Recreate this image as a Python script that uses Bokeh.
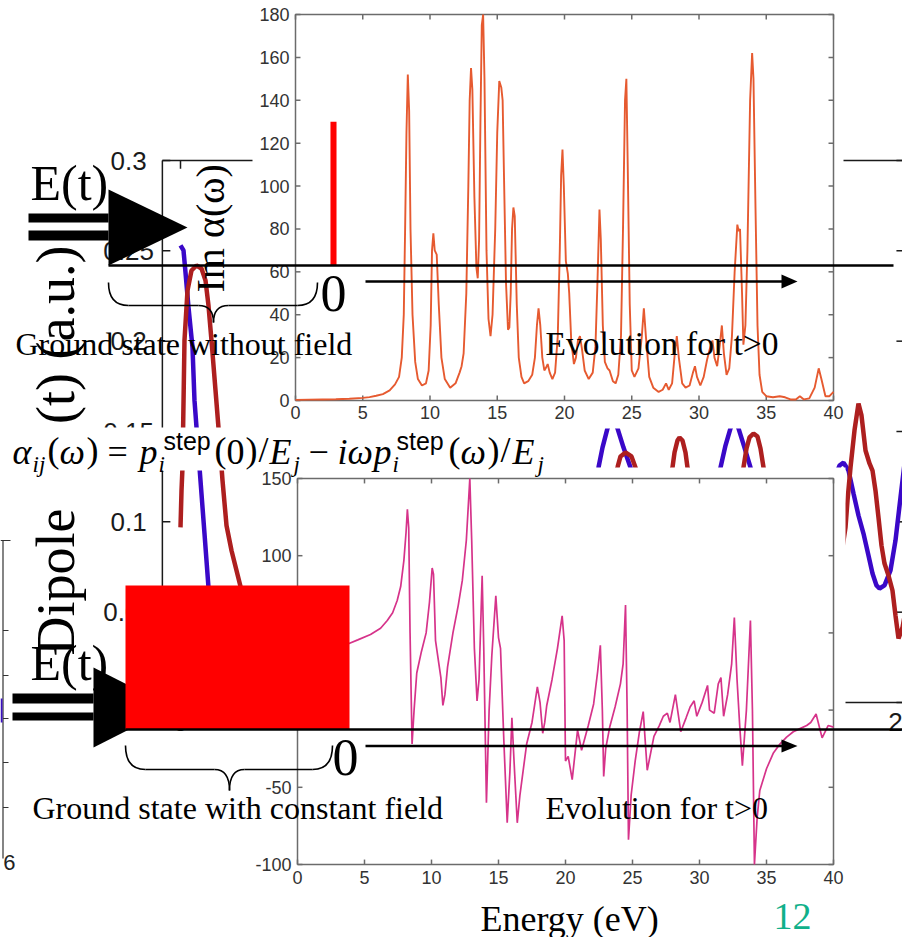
import math
from bokeh.plotting import figure
from bokeh.models import Range1d
from bokeh.core.properties import value
from bokeh.embed import file_html
from bokeh.resources import INLINE

SERIF = "Liberation Serif"
SANS = "Liberation Sans"

# ---- Im alpha(omega): ground state without field ----
im_energy = [0.0, 1.0, 2.0, 3.0, 4.0, 5.0, 5.5, 6.0, 6.5, 7.0, 7.4, 7.7, 7.9, 8.05, 8.15, 8.25, 8.35,
             8.45, 8.55, 8.7, 8.9, 9.1, 9.4, 9.7, 9.9, 10.05, 10.15, 10.25, 10.35, 10.5, 10.65, 10.85,
             11.1, 11.5, 11.9, 12.2, 12.35, 12.5, 12.7, 12.85, 12.95, 13.05, 13.15, 13.3, 13.45, 13.55,
             13.65, 13.75, 13.85, 13.95, 14.05, 14.2, 14.35, 14.5, 14.65, 14.85, 15.0, 15.15, 15.3,
             15.4, 15.5, 15.65, 15.8, 15.9, 16.0, 16.1, 16.2, 16.3, 16.45, 16.6, 16.8, 17.0, 17.3,
             17.6, 17.8, 17.95, 18.07, 18.2, 18.35, 18.5, 18.6, 18.75, 18.9, 19.1, 19.3, 19.5, 19.65,
             19.75, 19.85, 19.95, 20.1, 20.25, 20.35, 20.5, 20.7, 20.85, 21.0, 21.15, 21.3, 21.5, 21.8,
             22.1, 22.3, 22.45, 22.6, 22.7, 22.85, 23.0, 23.2, 23.35, 23.6, 23.8, 24.0, 24.2, 24.35,
             24.5, 24.6, 24.7, 24.85, 25.0, 25.2, 25.5, 25.75, 25.9, 26.05, 26.3, 26.6, 27.0, 27.3,
             27.55, 27.75, 28.0, 28.2, 28.35, 28.5, 28.75, 29.0, 29.3, 29.55, 29.7, 29.85, 30.1, 30.35,
             30.6, 30.8, 31.0, 31.15, 31.35, 31.55, 31.7, 31.85, 32.05, 32.25, 32.45, 32.65, 32.85,
             32.95, 33.05, 33.2, 33.3, 33.45, 33.6, 33.8, 33.95, 34.05, 34.2, 34.35, 34.5, 34.7, 35.0,
             35.5, 36.0, 36.4, 36.8, 37.2, 37.5, 37.8, 38.2, 38.6, 38.9, 39.1, 39.4, 39.7, 40.0]
im_alpha = [0.3, 0.4, 0.5, 0.6, 0.8, 1.2, 1.6, 2.2, 3.0, 4.7, 7.5, 11, 20, 40, 80, 125, 152,
            135, 80, 40, 18, 10, 7, 8, 14, 35, 70, 78, 70, 68, 45, 20,
            10, 6, 8, 13, 16, 22, 50, 100, 140, 155, 145, 95, 62, 57,
            75, 130, 175, 180, 150, 70, 38, 30, 40, 80, 125, 149, 146,
            140, 105, 55, 33, 34, 50, 80, 90, 86, 45, 20, 11, 8, 9,
            12, 20, 35, 43, 35, 20, 14, 15, 17, 13, 10, 13, 30, 70,
            105, 117, 100, 65, 59, 50, 28, 17, 20, 28, 30, 24, 14, 10,
            13, 25, 55, 89, 75, 35, 18, 15, 14, 9, 8, 12, 30, 80,
            140, 150, 110, 45, 14, 11, 15, 30, 43, 30, 11, 6, 4, 5,
            8, 5, 8, 22, 30, 20, 8, 6, 7, 13, 16, 11, 7, 11,
            19, 24, 28, 20, 16, 26, 35, 22, 12, 15, 30, 60, 82,
            79, 80, 50, 26, 35, 70, 140, 162, 150, 90, 35, 12, 4, 2,
            1.5, 2, 1.5, 0.5, 0.5, 2, 0.5, 1, 6, 15, 10, 2, 2, 4]

# ---- alpha(omega): ground state with constant field ----
cf_energy = [0.0, 1.0, 2.0, 3.0, 3.8, 4.5, 5.45, 6.2, 6.7, 7.1, 7.44, 7.7, 7.94, 8.1, 8.2, 8.3, 8.4,
             8.55, 8.7, 8.9, 9.25, 9.6, 9.85, 10.05, 10.15, 10.3, 10.55, 10.7, 10.85, 11.0, 11.2,
             11.6, 12.0, 12.3, 12.6, 12.86, 13.0, 13.2, 13.4, 13.55, 13.78, 13.9, 14.1, 14.3, 14.5,
             14.8, 15.0, 15.15, 15.4, 15.65, 15.85, 16.0, 16.2, 16.4, 16.6, 17.1, 17.5, 17.9, 18.1,
             18.3, 18.45, 18.6, 19.0, 19.4, 19.75, 19.9, 20.0, 20.2, 20.5, 20.9, 21.2, 21.7, 22.1,
             22.4, 22.6, 22.75, 22.85, 23.0, 23.3, 23.7, 24.1, 24.3, 24.48, 24.6, 24.7, 24.9, 25.2,
             25.5, 25.8, 26.1, 26.6, 27.0, 27.3, 27.6, 27.8, 28.2, 28.6, 29.0, 29.3, 29.6, 29.8,
             30.2, 30.6, 30.75, 31.1, 31.4, 31.6, 31.8, 32.1, 32.4, 32.6, 32.8, 33.0, 33.2, 33.5,
             33.8, 33.95, 34.1, 34.3, 34.5, 35.0, 35.5, 36.0, 36.5, 37.0, 37.5, 38.0, 38.3, 38.7,
             39.15, 39.6, 40.0]
cf_alpha = [38, 39, 40, 41.5, 43, 45.5, 49, 53, 58, 63, 71, 80, 97, 115, 130, 118, 50,
            -22, 0, 24, 38, 50, 70, 92, 88, 45, 30, 21, 3, 10, 28,
            50, 68, 84, 110, 150, 110, 40, 6, 20, 87, 40, -60, 0, 35,
            74, 47, 40, -20, -73, -40, -5, -40, -73, -55, -22, -8, 15, 5,
            -15, -8, 3, 20, 40, 61, 45, -33, -30, -45, -13, -26, -10, 4,
            25, 42, 0, -43, -25, -11, 2, 17, 30, 68, 0, -84, -55, -33,
            -15, -1, -39, -17, -10, -4, -2, -8, 10, -14, -5, 2, 6, -4,
            5, 16, 0, -2, 17, 21, -4, 10, 30, 60, 20, -10, -36, 0,
            58, 0, -100, -70, -52, -38, -28, -22, -17.5, -14, -12, -10, -8, -2.5,
            -18, -10, -11]

energy_ticks = [0, 5, 10, 15, 20, 25, 30, 35, 40]
im_ticks = [0, 20, 40, 60, 80, 100, 120, 140, 160, 180]
cf_ticks = [-100, -50, 0, 50, 100, 150]

# ---- dipole time traces (visible pieces), time in fs, dipole in a.u. ----
dip_time_ticks = [0, 5, 10, 15, 20]
dip_ticks = [0.0, 0.05, 0.1, 0.15, 0.2, 0.25, 0.3]
dip_tick_labels = ["0", "0.05", "0.1", "0.15", "0.2", "0.25", "0.3"]

blue_t = [
    [0.0, 0.083, 0.138, 0.221, 0.331, 0.386, 0.524, 0.662, 0.772, 0.855],
    [11.448, 11.531, 11.641, 11.779, 11.917, 12.055, 12.221, 12.414, 12.497],
    [14.814, 14.897, 15.034, 15.172, 15.283, 15.393, 15.559, 15.724, 15.807],
    [18.041, 18.179, 18.290, 18.428, 18.566, 18.703, 18.841, 18.979, 19.090, 19.200,
     19.283, 19.421, 19.586, 19.724, 19.862, 20.0],
]
blue_d = [
    [0.2530, 0.2502, 0.2380, 0.2186, 0.1965, 0.1672, 0.1301, 0.0935, 0.0637, 0.0399],
    [0.1229, 0.1301, 0.1411, 0.1517, 0.1589, 0.1517, 0.1411, 0.1301, 0.1229],
    [0.1229, 0.1301, 0.1422, 0.1517, 0.1572, 0.1517, 0.1411, 0.1301, 0.1229],
    [0.1240, 0.1312, 0.1328, 0.1284, 0.1157, 0.1035, 0.0935, 0.0814, 0.0714, 0.0648,
     0.0631, 0.0648, 0.0731, 0.0897, 0.1135, 0.1367],
]
red_t = [
    [0.0, 0.028, 0.055, 0.110, 0.193, 0.303, 0.441, 0.579, 0.690, 0.772, 0.855, 0.966,
     1.076, 1.159, 1.269, 1.407, 1.545, 1.683, 1.903],
    [11.972, 12.055, 12.138, 12.276, 12.441, 12.552, 12.607],
    [13.517, 13.572, 13.628, 13.710, 13.766, 13.848, 13.931, 13.986, 14.041],
    [15.476, 15.531, 15.614, 15.697, 15.807, 15.917, 16.0, 16.083, 16.138],
    [18.207, 18.345, 18.400, 18.483, 18.593, 18.703, 18.786, 18.897, 19.007, 19.090,
     19.172, 19.255, 19.338, 19.421, 19.531, 19.641, 19.724, 19.807, 19.917, 20.0],
]
red_d = [
    [0.0969, 0.1173, 0.1301, 0.2004, 0.2280, 0.2391, 0.2419, 0.2402, 0.2336, 0.2197, 0.2004,
     0.1727, 0.1450, 0.1229, 0.0980, 0.0841, 0.0731, 0.0620, 0.0421],
    [0.1256, 0.1301, 0.1362, 0.1384, 0.1362, 0.1301, 0.1256],
    [0.1229, 0.1301, 0.1384, 0.1450, 0.1467, 0.1450, 0.1384, 0.1301, 0.1229],
    [0.1229, 0.1301, 0.1406, 0.1467, 0.1489, 0.1472, 0.1406, 0.1301, 0.1229],
    [0.0786, 0.0969, 0.1118, 0.1301, 0.1506, 0.1655, 0.1589, 0.1395, 0.1323, 0.1284,
     0.1173, 0.1024, 0.0869, 0.0769, 0.0703, 0.0620, 0.0482, 0.0354, 0.0415, 0.0509],
]

# step-field marker on the spectrum (energy span, intensity span)
step_marker_energy = (2.6, 3.05)
step_marker_alpha = (63, 130)

W, H = 902, 937
p = figure(width=W, height=H, x_range=Range1d(0, W), y_range=Range1d(H, 0),
           toolbar_location=None, output_backend="svg", min_border=0,
           x_axis_location=None, y_axis_location=None)
p.grid.visible = False
p.outline_line_color = None
p.background_fill_color = "white"
p.border_fill_color = "white"


def txt(target, x, y, s, size, font=SERIF, style="normal", align="left",
        baseline="middle", angle=0.0, color="black"):
    xs = x if isinstance(x, list) else [x]
    ys = y if isinstance(y, list) else [y]
    ss = s if isinstance(s, list) else [s]
    target.text(x=xs, y=ys, text=ss, text_font=value(font), text_font_size=f"{size}px",
                text_font_style=style, text_align=align, text_baseline=baseline,
                angle=angle, text_color=color)


# ---------------- partial panel at the far left ----------------
p.line([2.5, 2.5], [540, 858], line_color="#333333", line_width=1.2)
p.line([0, 10], [540, 540], line_color="#333333", line_width=1.2)
p.segment(x0=[2.5] * 5, y0=[630, 675, 718, 762, 807], x1=[8] * 5, y1=[630, 675, 718, 762, 807],
          line_color="#333333", line_width=1)
p.line([1, 1], [698, 722], line_color="#3a10c0", line_width=2)
txt(p, 15, 862, "6", 22, font=SANS, align="right", color="#222222")

# ---------------- dipole panel (background) ----------------
dip = p.subplot(x_source=Range1d(0, 20), y_source=Range1d(0, 0.3),
                x_target=Range1d(180, 905), y_target=Range1d(702, 160))
t_left, t_right = -0.5, 19.95
fr = dict(line_color="#1a1a1a", line_width=1.5)
dip.line([t_left, t_right], [0.3, 0.3], **fr)
dip.line([t_left, t_right], [0.0, 0.0], **fr)
dip.line([t_left, t_left], [0.0, 0.3], **fr)
dip.line([t_right, t_right], [0.0, 0.3], **fr)
dip.segment(x0=[t_left] * len(dip_ticks), y0=dip_ticks, x1=[t_left + 0.22] * len(dip_ticks),
            y1=dip_ticks, **fr)
dip.segment(x0=[t_right] * len(dip_ticks), y0=dip_ticks, x1=[t_right - 0.2] * len(dip_ticks),
            y1=dip_ticks, **fr)
dip.segment(x0=dip_time_ticks, y0=[0.3] * 5, x1=dip_time_ticks, y1=[0.2955] * 5, **fr)
dip.segment(x0=dip_time_ticks, y0=[0.0] * 5, x1=dip_time_ticks, y1=[0.0045] * 5, **fr)
txt(dip, [-1.43] * len(dip_ticks), dip_ticks, dip_tick_labels, 26, font=SANS,
    align="center", color="#1a1a1a")
# time tick labels; the last one sits at the window edge, so it is drawn right-aligned
txt(dip, dip_time_ticks[:-1], [-0.011] * 4, [str(v) for v in dip_time_ticks[:-1]], 26,
    font=SANS, align="center", color="#1a1a1a")
txt(dip, [dip_time_ticks[-1] - 0.08], [-0.011], [str(dip_time_ticks[-1])[0]], 26,
    font=SANS, align="right", color="#1a1a1a")
dip.multi_line(xs=blue_t, ys=blue_d, line_color="#3a08c8", line_width=4.5)
dip.multi_line(xs=red_t, ys=red_d, line_color="#ad1f1f", line_width=4.5)

# vertical axis title of the dipole panel
txt(p, 55, 655, "Dipole", 54, angle=math.pi / 2)
txt(p, 55, 245, "(t) (a.u.)", 54, angle=math.pi / 2, align="right")

# ---------------- spectrum panels ----------------
p.quad(left=252, right=843, top=0, bottom=428, fill_color="white", line_color=None)
p.quad(left=250, right=845, top=467, bottom=890, fill_color="white", line_color=None)

AX = "#6b6b6b"
LBL = "#333333"


def spectrum_axes(sub, ymin, ymax, yticks, xtick_len, ytick_len, ylabel_x, xlabel_y):
    fr2 = dict(line_color=AX, line_width=1.5)
    sub.line([0, 40, 40, 0, 0], [ymin, ymin, ymax, ymax, ymin], **fr2)
    n = len(energy_ticks)
    sub.segment(x0=energy_ticks, y0=[ymin] * n, x1=energy_ticks, y1=[ymin + ytick_len] * n, **fr2)
    sub.segment(x0=energy_ticks, y0=[ymax] * n, x1=energy_ticks, y1=[ymax - ytick_len] * n, **fr2)
    m = len(yticks)
    sub.segment(x0=[0] * m, y0=yticks, x1=[xtick_len] * m, y1=yticks, **fr2)
    sub.segment(x0=[40] * m, y0=yticks, x1=[40 - xtick_len] * m, y1=yticks, **fr2)
    txt(sub, [ylabel_x] * m, yticks, [str(v) for v in yticks], 18, font=SANS,
        align="right", color=LBL)
    txt(sub, energy_ticks, [xlabel_y] * n, [str(v) for v in energy_ticks], 18, font=SANS,
        align="center", color=LBL)


top = p.subplot(x_source=Range1d(0, 40), y_source=Range1d(0, 180),
                x_target=Range1d(295, 833), y_target=Range1d(400, 14))
spectrum_axes(top, 0, 180, im_ticks, 0.37, 2.3, -0.45, -5.4)
top.line(im_energy, im_alpha, line_color="#e65a30", line_width=1.9)

bot = p.subplot(x_source=Range1d(0, 40), y_source=Range1d(-100, 150),
                x_target=Range1d(297, 833), y_target=Range1d(864, 478))
spectrum_axes(bot, -100, 150, cf_ticks, 0.37, 3.2, -0.45, -108.4)
bot.line(cf_energy, cf_alpha, line_color="#d6338a", line_width=1.7)

top.quad(left=[step_marker_energy[0]], right=[step_marker_energy[1]],
         bottom=[step_marker_alpha[0]], top=[step_marker_alpha[1]],
         fill_color="#ff0000", line_color=None)

# ---------------- formula ----------------
p.quad(left=8, right=565, top=427, bottom=470, fill_color="white", line_color=None)
MAIN, SUB, SUP = 36, 23, 25
YM, YSUB, YSUP = 451, 464, 440
formula = [
    ("α", 12, YM, MAIN, SERIF, "italic"),
    ("ij", 32, YSUB, SUB, SERIF, "italic"),
    ("(", 47, YM - 2, MAIN, SERIF, "normal"),
    ("ω", 59, YM, MAIN, SERIF, "italic"),
    (")", 86, YM - 2, MAIN, SERIF, "normal"),
    ("=", 107, YM, MAIN, SERIF, "normal"),
    ("p", 139, YM, MAIN, SERIF, "italic"),
    ("i", 158, YSUB, SUB, SERIF, "italic"),
    ("step", 163, YSUP, SUP, SANS, "normal"),
    ("(", 214, YM - 2, MAIN, SERIF, "normal"),
    ("0", 226, YM, MAIN, SERIF, "normal"),
    (")", 245, YM - 2, MAIN, SERIF, "normal"),
    ("/", 258, YM - 2, MAIN, SERIF, "normal"),
    ("E", 269, YM, MAIN, SERIF, "italic"),
    ("j", 293, YSUB, SUB, SERIF, "italic"),
    ("−", 308, YM, MAIN, SERIF, "normal"),
    ("i", 337, YM, MAIN, SERIF, "italic"),
    ("ω", 347, YM, MAIN, SERIF, "italic"),
    ("p", 373, YM, MAIN, SERIF, "italic"),
    ("i", 392, YSUB, SUB, SERIF, "italic"),
    ("step", 396, YSUP, SUP, SANS, "normal"),
    ("(", 448, YM - 2, MAIN, SERIF, "normal"),
    ("ω", 460, YM, MAIN, SERIF, "italic"),
    (")", 487, YM - 2, MAIN, SERIF, "normal"),
    ("/", 500, YM - 2, MAIN, SERIF, "normal"),
    ("E", 512, YM, MAIN, SERIF, "italic"),
    ("j", 537, YSUB, SUB, SERIF, "italic"),
]
for s, x, y, size, font, style in formula:
    txt(p, x, y, s, size, font=font, style=style)

# spectrum axis title
txt(p, 210, 292, "Im α(ω)", 40, angle=math.pi / 2)

# ---------------- schematic overlays ----------------
def brace(x0, x1, xm, y_end, y_mid, y_tip, r=20, rt=15):
    kw = dict(line_color="black", line_width=1.6)
    p.quadratic(x0=[x0, xm - rt, xm, x1 - r], y0=[y_end, y_mid, y_tip, y_mid],
                x1=[x0 + r, xm, xm + rt, x1], y1=[y_mid, y_tip, y_mid, y_end],
                cx=[x0, xm, xm, x1], cy=[y_mid, y_mid, y_mid, y_mid], **kw)
    p.segment(x0=[x0 + r, xm + rt], y0=[y_mid, y_mid], x1=[xm - rt, x1 - r], y1=[y_mid, y_mid], **kw)


def field_symbol(xl, xr, bar1, bar2, tri_top, tri_bot, tip):
    p.quad(left=[xl, xl], right=[xr, xr], top=[bar1[0], bar2[0]], bottom=[bar1[1], bar2[1]],
           fill_color="black", line_color=None)
    p.patch([xr, xr, tip], [tri_top, tri_bot, (tri_top + tri_bot) / 2],
            fill_color="black", line_color=None)


# upper scheme: ground state without field
field_symbol(28, 108, (213, 222), (230, 240), 189, 265, 187)
txt(p, 30, 182, "E(t)", 50)
p.line([108, 893], [265, 265], line_color="black", line_width=2.6)
brace(108, 317, 213, 282, 305, 322)
txt(p, 333, 293, "0", 52, align="center")
p.line([365, 783], [281, 281], line_color="black", line_width=2.4)
p.patch([781, 781, 797], [274, 288, 281], fill_color="black", line_color=None)
txt(p, 15, 343, "Ground state without field", 32)
txt(p, 545, 343, "Evolution for t>0", 33.5)

# lower scheme: ground state with constant field
field_symbol(12, 93, (693, 703), (712, 720), 667, 747, 172)
txt(p, 30, 662, "E(t)", 50)
p.quad(left=125, right=349, top=585, bottom=729, fill_color="#ff0000", line_color=None)
p.line([125, 902], [729, 729], line_color="black", line_width=2.6)
brace(125, 332, 229, 745, 769, 790)
txt(p, 345, 757, "0", 52, align="center")
p.line([365, 783], [745.5, 745.5], line_color="black", line_width=2.4)
p.patch([781, 781, 797], [739, 752, 745.5], fill_color="black", line_color=None)
txt(p, 32, 807, "Ground state with constant field", 32)
txt(p, 545, 807, "Evolution for t>0", 32)

txt(p, 480, 918, "Energy (eV)", 36)
txt(p, 773, 916, "12", 38, color="#10b08a")

open("out.html", "w").write(file_html(p, INLINE))
